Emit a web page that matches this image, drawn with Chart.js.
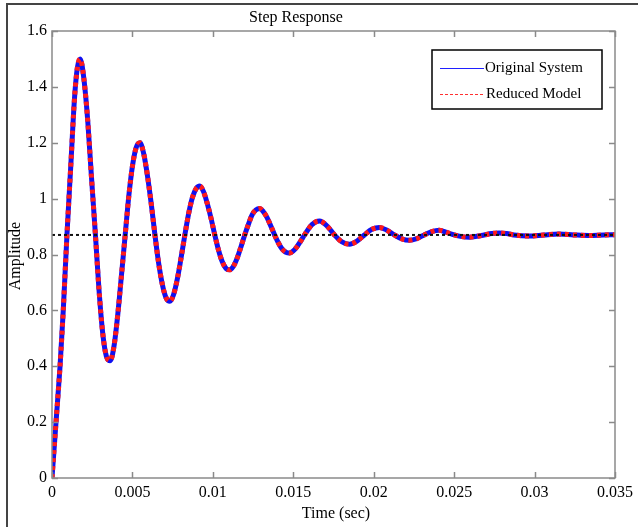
<!DOCTYPE html>
<html>
<head>
<meta charset="utf-8">
<title>Step Response</title>
<script src="https://cdn.jsdelivr.net/npm/chart.js@4.4.1/dist/chart.umd.min.js"></script>
<style>
  html, body { margin: 0; padding: 0; background: #fff; }
  #wrap { width: 638px; height: 527px; position: relative; }
</style>
</head>
<body>
<div id="wrap"><canvas id="stepChart" width="638" height="527"></canvas></div>
<script>
// time (sec) and amplitude
var timeSec = [
  0, 0.00025, 0.0005, 0.0007, 0.00093, 0.00117, 0.0014, 0.00158, 0.00175,
  0.00198, 0.00222, 0.00245, 0.0027, 0.00292, 0.00315, 0.00338, 0.00362,
  0.00385, 0.00408, 0.00431, 0.00455, 0.00478, 0.00501, 0.00524, 0.00547,
  0.0057, 0.00594, 0.00617, 0.0064, 0.00663, 0.00687, 0.0071, 0.00733,
  0.00756, 0.0078, 0.00803, 0.00826, 0.00849, 0.00873, 0.00896, 0.00919,
  0.00942, 0.00965, 0.00989, 0.01012, 0.01035, 0.01058, 0.01082, 0.01105,
  0.01128, 0.01151, 0.01175, 0.01198, 0.01221, 0.01244, 0.01268, 0.01291,
  0.01314, 0.01337, 0.01361, 0.01384, 0.01407, 0.0143, 0.01454, 0.01477,
  0.015, 0.01523, 0.01547, 0.0157,
  0.01616, 0.01663,
  0.0171, 0.01756, 0.01803, 0.01849, 0.01896, 0.01942, 0.01989, 0.02035,
  0.02082, 0.02128, 0.02175, 0.02221, 0.02268, 0.02314, 0.02361, 0.02407,
  0.02454, 0.025, 0.02547, 0.02593, 0.0264, 0.02686, 0.02733, 0.02779,
  0.02826, 0.02872, 0.02965, 0.03058, 0.03151, 0.03244, 0.03337, 0.0343, 0.035
];
var originalAmp = [
  0, 0.2, 0.4, 0.6, 0.87, 1.12, 1.36, 1.47, 1.5,
  1.43, 1.28, 1.08, 0.87, 0.675, 0.52, 0.436, 0.42,
  0.47, 0.58, 0.72, 0.87, 1.012, 1.12, 1.184, 1.2,
  1.161, 1.08, 0.981, 0.87, 0.769, 0.69, 0.644, 0.633,
  0.657, 0.715, 0.79, 0.87, 0.945, 1.004, 1.036, 1.045,
  1.025, 0.983, 0.929, 0.87, 0.816, 0.775, 0.75, 0.745,
  0.758, 0.787, 0.828, 0.87, 0.908, 0.942, 0.96, 0.965,
  0.953, 0.932, 0.901, 0.87, 0.842, 0.82, 0.808, 0.805,
  0.813, 0.828, 0.849, 0.87,
  0.907, 0.92,
  0.902, 0.87, 0.845, 0.837, 0.848, 0.87, 0.89, 0.897,
  0.887, 0.87, 0.856, 0.851, 0.857, 0.87, 0.882, 0.887,
  0.879, 0.87, 0.864, 0.862, 0.865, 0.87, 0.875, 0.877,
  0.875, 0.87, 0.866, 0.87, 0.873, 0.87, 0.868, 0.87, 0.871
];
// reduced model lies on top of the original curve
var reducedAmp = originalAmp.slice();

var finalTime = [0, 0.035];
var finalValue = [0.87, 0.87];

var xTickValues = [0, 0.005, 0.01, 0.015, 0.02, 0.025, 0.03, 0.035];
var xTickLabels = ["0", "0.005", "0.01", "0.015", "0.02", "0.025", "0.03", "0.035"];
var yTickValues = [0, 0.2, 0.4, 0.6, 0.8, 1, 1.2, 1.4, 1.6];
var yTickLabels = ["0", "0.2", "0.4", "0.6", "0.8", "1", "1.2", "1.4", "1.6"];

var seriesNames = ["Original System", "Reduced Model"];

function toPoints(xs, ys) {
  return xs.map(function(x, i) { return {x: x, y: ys[i]}; });
}

var serif = "'Liberation Serif', 'Times New Roman', serif";

// frame, inner ticks, titles and the matlab-style legend
var matlabDecor = {
  id: "matlabDecor",
  beforeDraw: function(chart) {
    var c = chart.ctx;
    c.save();
    c.fillStyle = "#fff";
    c.fillRect(0, 0, chart.width, chart.height);
    c.strokeStyle = "#444";
    c.lineWidth = 2;
    c.beginPath();
    c.moveTo(7, chart.height);
    c.lineTo(7, 4);
    c.lineTo(chart.width, 4);
    c.stroke();
    c.restore();
  },
  afterDatasetsDraw: function(chart) {
    var c = chart.ctx;
    var a = chart.chartArea;
    var xs = chart.scales.x, ys = chart.scales.y;
    c.save();
    c.strokeStyle = "#8a8a8a";
    c.lineWidth = 1.5;
    c.strokeRect(a.left, a.top, a.right - a.left, a.bottom - a.top);
    c.beginPath();
    xTickValues.forEach(function(v) {
      var px = Math.round(xs.getPixelForValue(v)) + 0.5;
      c.moveTo(px, a.bottom); c.lineTo(px, a.bottom - 6);
      c.moveTo(px, a.top); c.lineTo(px, a.top + 6);
    });
    yTickValues.forEach(function(v) {
      var py = Math.round(ys.getPixelForValue(v)) + 0.5;
      c.moveTo(a.left, py); c.lineTo(a.left + 6, py);
      c.moveTo(a.right, py); c.lineTo(a.right - 6, py);
    });
    c.stroke();

    // titles
    c.fillStyle = "#000";
    c.font = "16px " + serif;
    c.textAlign = "center";
    c.textBaseline = "middle";
    c.fillText("Step Response", 296, 18);
    c.fillText("Time (sec)", 336, 514);
    c.save();
    c.translate(16, 256);
    c.rotate(-Math.PI / 2);
    c.fillText("Amplitude", 0, 0);
    c.restore();

    // legend
    var lx = 432, ly = 50, lw = 170, lh = 59;
    c.fillStyle = "#fff";
    c.fillRect(lx, ly, lw, lh);
    c.strokeStyle = "#000";
    c.lineWidth = 1.5;
    c.strokeRect(lx, ly, lw, lh);
    c.lineWidth = 1;
    c.strokeStyle = "#2020ff";
    c.beginPath(); c.moveTo(440, 68.5); c.lineTo(484, 68.5); c.stroke();
    c.strokeStyle = "#ff3030";
    c.setLineDash([3, 2]);
    c.beginPath(); c.moveTo(440, 94.5); c.lineTo(484, 94.5); c.stroke();
    c.setLineDash([]);
    c.fillStyle = "#000";
    c.font = "15px " + serif;
    c.textAlign = "left";
    c.fillText(seriesNames[0], 485, 68);
    c.fillText(seriesNames[1], 486, 94);
    c.restore();
  }
};

var ctx = document.getElementById("stepChart");

var chart = new Chart(ctx, {
  type: "line",
  data: {
    datasets: [
      {
        label: seriesNames[0],
        data: toPoints(timeSec, originalAmp),
        borderColor: "#1010f0",
        borderWidth: 5,
        pointRadius: 0,
        fill: false,
        cubicInterpolationMode: "monotone",
        order: 3
      },
      {
        label: seriesNames[1],
        data: toPoints(timeSec, reducedAmp),
        borderColor: "#ff1a1a",
        borderWidth: 5,
        borderDash: [4, 4],
        pointRadius: 0,
        fill: false,
        cubicInterpolationMode: "monotone",
        order: 2
      },
      {
        label: "final value",
        data: toPoints(finalTime, finalValue),
        borderColor: "#111",
        borderWidth: 2,
        borderDash: [3, 3],
        pointRadius: 0,
        fill: false,
        order: 1
      }
    ]
  },
  options: {
    responsive: false,
    animation: false,
    events: [],
    layout: { padding: { left: 0, top: 31, right: 12, bottom: 0 } },
    plugins: {
      legend: { display: false },
      title: { display: false },
      tooltip: { enabled: false }
    },
    scales: {
      x: {
        type: "linear",
        min: 0,
        max: 0.035,
        grid: { display: false, drawTicks: false },
        border: { display: false },
        afterBuildTicks: function(s) {
          s.ticks = xTickValues.map(function(v) { return {value: v}; });
        },
        afterFit: function(s) { s.height = 49; },
        ticks: {
          padding: 5,
          color: "#000",
          font: { family: serif, size: 16 },
          maxRotation: 0,
          autoSkip: false,
          callback: function(v, i) { return xTickLabels[i]; }
        }
      },
      y: {
        type: "linear",
        min: 0,
        max: 1.6,
        grid: { display: false, drawTicks: false },
        border: { display: false },
        afterBuildTicks: function(s) {
          s.ticks = yTickValues.map(function(v) { return {value: v}; });
        },
        afterFit: function(s) { s.width = 52; },
        ticks: {
          padding: 5,
          color: "#000",
          font: { family: serif, size: 16 },
          autoSkip: false,
          callback: function(v, i) { return yTickLabels[i]; }
        }
      }
    }
  },
  plugins: [matlabDecor]
});
</script>
</body>
</html>
